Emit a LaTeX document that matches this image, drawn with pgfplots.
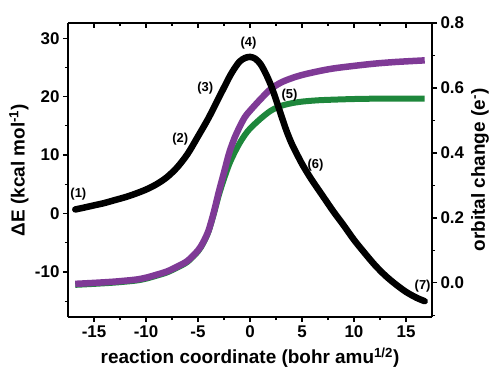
\documentclass[border=0pt]{standalone}
\usepackage{pgfplots}
\pgfplotsset{compat=1.18}
\usepackage{fontspec}
\setmainfont{Liberation Sans}
\definecolor{cpurple}{RGB}{127,58,150}
\definecolor{cgreen}{RGB}{30,135,60}
\begin{document}
\begin{tikzpicture}
\pgfplotsset{
  common/.style={scale only axis, width=364bp, height=294bp, xmin=-17.5, xmax=17.5,
    axis line style={line width=1.5bp},
    major tick length=5bp, minor tick length=3bp,
    every tick/.style={line width=1.2bp, black},
    tick label style={font=\fontsize{17}{17}\selectfont\bfseries},
    label style={font=\fontsize{19}{19}\selectfont\bfseries},
    /pgf/number format/assume math mode=true,
  }
}
% right axis: orbital change
\begin{axis}[common, ymin=-0.105, ymax=0.8,
  axis y line*=right, axis x line=none, tick align=outside,
  ytick={0,0.2,0.4,0.6,0.8}, minor ytick={-0.1,0.1,0.3,0.5,0.7},
  yticklabel style={/pgf/number format/.cd,fixed,fixed zerofill,precision=1},
  ylabel={orbital change (e\textsuperscript{-})},
  ylabel style={at={(axis description cs:1.132,0.5)},anchor=center}]
\addplot[cgreen, line width=6bp, smooth, tension=0.5] coordinates {
(-16.8,-0.006) (-15,-0.003) (-13,0.001) (-11,0.007) (-10,0.013) (-9,0.022)
(-8,0.032) (-7,0.047) (-6,0.065) (-5,0.097) (-4.5,0.122) (-4,0.157)
(-3.5,0.21) (-3,0.27) (-2.5,0.32) (-2,0.365) (-1.5,0.40) (-1,0.43)
(-0.5,0.455) (0,0.475) (1,0.505) (2,0.53) (3,0.545) (4,0.553) (5,0.558)
(6.5,0.562) (8,0.564) (10,0.566) (12,0.567) (14,0.567) (16.8,0.567)};
\addplot[cpurple, line width=6.5bp, smooth, tension=0.5] coordinates {
(-16.8,-0.003) (-15,0.000) (-13,0.004) (-11,0.010) (-10,0.016) (-9,0.025)
(-8,0.035) (-7,0.05) (-6,0.068) (-5,0.10) (-4.5,0.125) (-4,0.16)
(-3.5,0.215) (-3,0.28) (-2.5,0.34) (-2,0.40) (-1.5,0.445) (-1,0.48)
(-0.5,0.51) (0,0.53) (1,0.565) (2,0.597) (3,0.617) (4,0.63) (5,0.64)
(6.5,0.651) (8,0.66) (10,0.668) (12,0.675) (14,0.68) (16.8,0.685)};
\end{axis}
% left axis: Delta E
\begin{axis}[common, ymin=-17.7, ymax=32.6,
  axis x line*=bottom, axis y line*=left, tick align=outside,
  xtick={-15,-10,...,15}, minor xtick={-12.5,-7.5,...,12.5},
  ytick={-10,0,...,30}, minor ytick={-15,-5,...,25},
  xlabel={reaction coordinate (bohr amu\textsuperscript{1/2})},
  xlabel style={at={(axis description cs:0.5,-0.139)},anchor=center},
  ylabel={ΔE (kcal mol\textsuperscript{-1})},
  ylabel style={at={(axis description cs:-0.135,0.5)},anchor=center}]
\coordinate (bl) at (rel axis cs:0,0);
\coordinate (tr) at (rel axis cs:1,1);
\addplot[black, line width=6.5bp, smooth, tension=0.5, line cap=round] coordinates {
(-16.8,0.7) (-16,1.0) (-15,1.4) (-14,1.8) (-13,2.3) (-12,2.8) (-11,3.4)
(-10,4.1) (-9,5.0) (-8,6.2) (-7,7.9) (-6,10.2) (-5,13.2) (-4,16.3)
(-3,19.8) (-2,23.3) (-1.5,24.8) (-1,26.0) (-0.5,26.6) (0,26.8)
(0.5,26.5) (1.0,25.6) (1.5,24.0) (2.0,22.0) (2.5,19.5) (3.0,16.8)
(3.5,14.2) (4.0,12.0) (4.5,10.2) (5.0,8.5) (5.5,7.0) (6.0,5.6)
(7,3.0) (8,0.4) (9,-2.0) (10,-4.5) (11,-6.7) (12,-8.8) (13,-10.6)
(14,-12.1) (15,-13.4) (16,-14.4) (16.8,-15.0)};
\begin{scope}[font=\fontsize{13}{13}\selectfont\bfseries]
\node at (axis cs:-16.5,3.3) {(1)};
\node at (axis cs:-6.7,12.8) {(2)};
\node at (axis cs:-4.3,21.5) {(3)};
\node at (axis cs:-0.15,29.1) {(4)};
\node at (axis cs:3.8,20.3) {(5)};
\node at (axis cs:6.3,8.2) {(6)};
\node at (axis cs:16.6,-12.5) {(7)};
\end{scope}
\end{axis}
% top axis ticks pointing inward
\begin{axis}[common, ymin=0, ymax=1,
  axis x line*=top, axis y line=none, tick align=inside,
  xtick={-15,-10,...,15}, minor xtick={-12.5,-7.5,...,12.5},
  xticklabels={}]
\end{axis}
\pgfresetboundingbox
\path[use as bounding box] ([xshift=-68bp,yshift=-52bp]bl) rectangle ([xshift=60bp,yshift=23bp]tr);
\end{tikzpicture}
\end{document}
